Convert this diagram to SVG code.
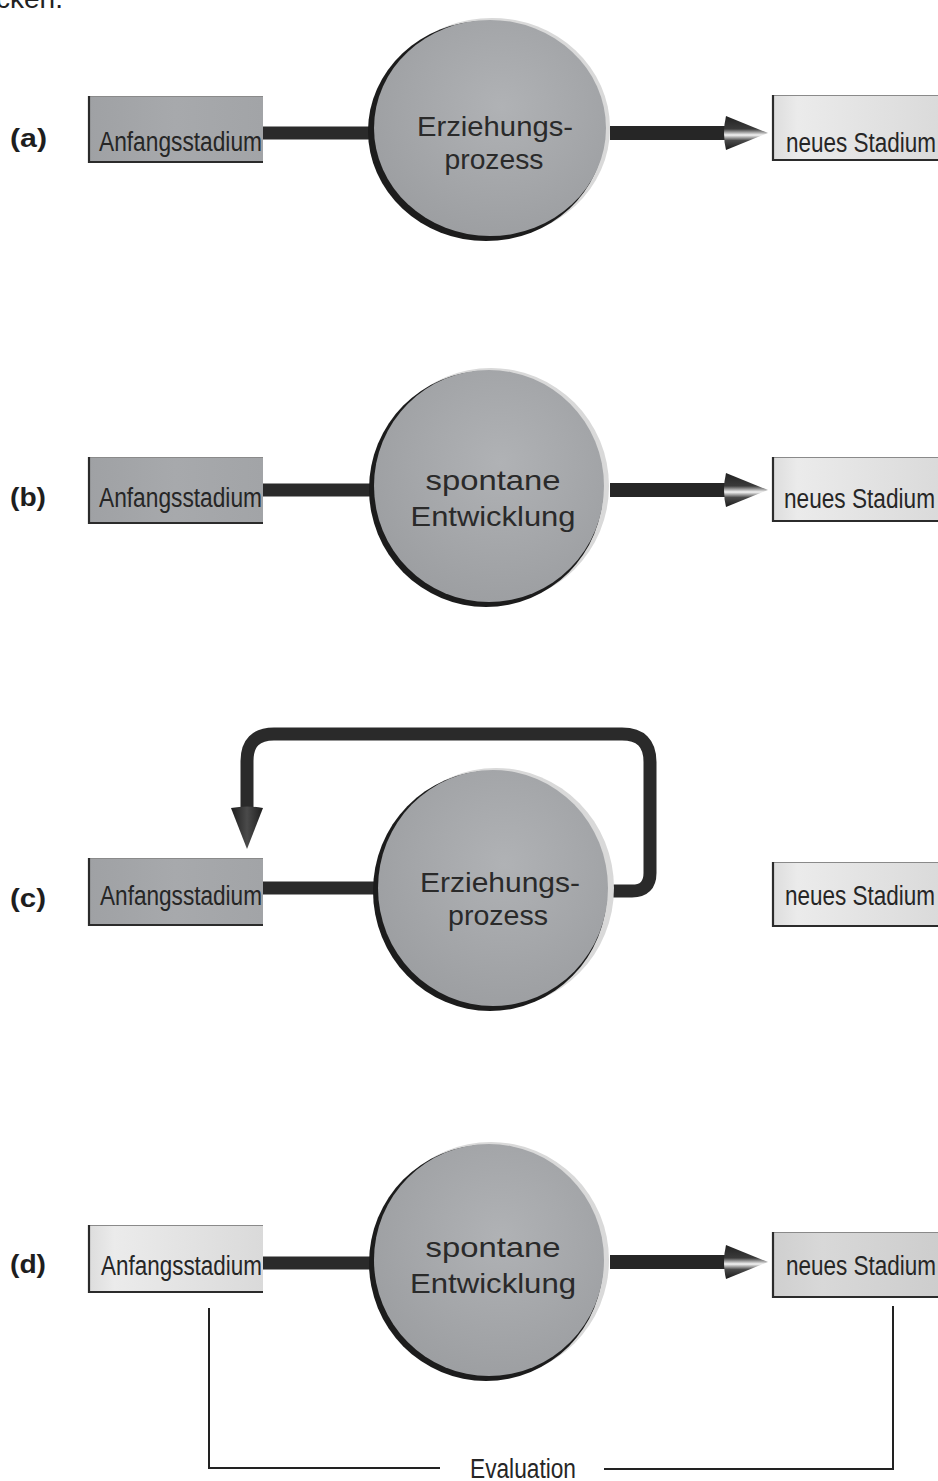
<svg xmlns="http://www.w3.org/2000/svg" width="938" height="1481" viewBox="0 0 938 1481">
  <defs>
    <style>
      .lbl { font-family: "Liberation Sans", Arial, sans-serif; font-weight: bold; font-size: 26px; fill: #1e1e1e; }
      .box-t { font-family: "Liberation Sans Narrow", "Liberation Sans", Arial, sans-serif; font-stretch: condensed; font-size: 27px; fill: #262626; }
      .disc-t { font-family: "Liberation Sans", Arial, sans-serif; font-size: 28px; fill: #2a2a2a; text-anchor: middle; }
      .edge { fill: none; stroke: #2b2b2b; stroke-width: 2.2; }
      .top-edge { fill: none; stroke: #8a8a8a; stroke-width: 1; }
      .bar { fill: none; stroke: #2a2a2a; stroke-width: 13; }
      .shaft { fill: none; stroke: #262626; stroke-width: 14; marker-end: url(#cone); }
      .loop { fill: none; stroke: #2a2a2a; stroke-width: 13; stroke-linejoin: round; marker-end: url(#coneDown); }
      .eval { fill: none; stroke: #222; stroke-width: 2; }
      .halo { fill: #d9d9d9; }
      .rim { fill: #1c1c1c; }
      .disc { fill: url(#discFill); }
    </style>
    <radialGradient id="discFill" cx="0.55" cy="0.4" r="0.7">
      <stop offset="0" stop-color="#b0b2b5"/>
      <stop offset="1" stop-color="#9a9c9f"/>
    </radialGradient>
    <linearGradient id="darkBox" x1="0" y1="0" x2="1" y2="0">
      <stop offset="0" stop-color="#9fa1a4"/>
      <stop offset="0.5" stop-color="#a7a9ac"/>
      <stop offset="1" stop-color="#a2a4a7"/>
    </linearGradient>
    <linearGradient id="lightBox" x1="0" y1="0" x2="1" y2="0">
      <stop offset="0" stop-color="#dcdcdc"/>
      <stop offset="0.15" stop-color="#ebebeb"/>
      <stop offset="1" stop-color="#dadada"/>
    </linearGradient>
    <linearGradient id="midBox" x1="0" y1="0" x2="1" y2="0">
      <stop offset="0" stop-color="#cfcfcf"/>
      <stop offset="0.3" stop-color="#d8d8d8"/>
      <stop offset="1" stop-color="#cdcdcd"/>
    </linearGradient>
    <linearGradient id="coneFill" x1="0" y1="0" x2="0" y2="1">
      <stop offset="0" stop-color="#222"/>
      <stop offset="0.38" stop-color="#3a3a3a"/>
      <stop offset="0.56" stop-color="#f4f4f4"/>
      <stop offset="0.72" stop-color="#4a4a4a"/>
      <stop offset="1" stop-color="#1a1a1a"/>
    </linearGradient>
    <linearGradient id="coneDarkFill" x1="0" y1="0" x2="0" y2="1">
      <stop offset="0" stop-color="#1e1e1e"/>
      <stop offset="0.5" stop-color="#4a4a4a"/>
      <stop offset="1" stop-color="#1e1e1e"/>
    </linearGradient>
    <!-- cone-shaped arrowhead, base sits on the end of the shaft -->
    <marker id="cone" markerUnits="userSpaceOnUse" viewBox="0 0 46 34" markerWidth="46" markerHeight="34" refX="8" refY="17" orient="auto">
      <path d="M4,0 L46,17 L4,34 Q0,17 4,0 Z" fill="url(#coneFill)"/>
    </marker>
    <marker id="coneDown" markerUnits="userSpaceOnUse" viewBox="0 0 44 32" markerWidth="44" markerHeight="32" refX="4" refY="16" orient="auto">
      <path d="M3,0 L44,16 L3,32 Q0,16 3,0 Z" fill="url(#coneDarkFill)"/>
    </marker>
  </defs>

  <!-- clipped remainder of the running text above -->
  <text x="-4" y="8" style="font-family: 'Liberation Sans', Arial, sans-serif; font-size: 28px; fill: #222;">cken.</text>

  <!-- connectors -->
  <g id="connectors">
    <!-- (a) -->
    <path class="bar" d="M263,133 H374"/>
    <path class="shaft" d="M610,133 H730"/>
    <!-- (b) -->
    <path class="bar" d="M263,490 H374"/>
    <path class="shaft" d="M610,490 H730"/>
    <!-- (c) -->
    <path class="bar" d="M263,888 H378"/>
    <path class="loop" d="M612,891 H632 Q650,891 650,873 V762 Q650,734 622,734 H274 Q247,734 247,761 V809"/>
    <!-- (d) -->
    <path class="bar" d="M263,1263 H374"/>
    <path class="shaft" d="M610,1262 H730"/>
    <!-- evaluation bracket -->
    <path class="eval" d="M209,1308 V1468 H440"/>
    <path class="eval" d="M604,1469 H893 V1306"/>
  </g>

  <!-- row labels -->
  <g id="labels">
    <text class="lbl" x="10" y="147" textLength="37" lengthAdjust="spacingAndGlyphs">(a)</text>
    <text class="lbl" x="10" y="506" textLength="36" lengthAdjust="spacingAndGlyphs">(b)</text>
    <text class="lbl" x="10" y="907" textLength="36" lengthAdjust="spacingAndGlyphs">(c)</text>
    <text class="lbl" x="10" y="1273" textLength="36" lengthAdjust="spacingAndGlyphs">(d)</text>
  </g>

  <!-- (a) -->
  <g id="a-start">
    <rect x="88" y="96" width="175" height="67" fill="url(#darkBox)"/>
    <path class="top-edge" d="M88,96.5 H263"/>
    <path class="edge" d="M89,96 V162 H263"/>
    <text class="box-t" x="99" y="151" textLength="163" lengthAdjust="spacingAndGlyphs">Anfangsstadium</text>
  </g>
  <g id="a-process">
    <ellipse class="halo" cx="492" cy="128" rx="118" ry="110"/>
    <ellipse class="rim" cx="486" cy="131" rx="118" ry="110"/>
    <ellipse class="disc" cx="490" cy="128" rx="116" ry="108"/>
    <text class="disc-t" x="495" y="136" textLength="156" lengthAdjust="spacingAndGlyphs">Erziehungs-</text>
    <text class="disc-t" x="494" y="169" textLength="99" lengthAdjust="spacingAndGlyphs">prozess</text>
  </g>
  <g id="a-end">
    <rect x="772" y="95" width="170" height="66" fill="url(#lightBox)"/>
    <path class="top-edge" d="M772,95.5 H940"/>
    <path class="edge" d="M773,95 V160 H940"/>
    <text class="box-t" x="786" y="152" textLength="150" lengthAdjust="spacingAndGlyphs">neues Stadium</text>
  </g>

  <!-- (b) -->
  <g id="b-start">
    <rect x="88" y="457" width="175" height="67" fill="url(#darkBox)"/>
    <path class="top-edge" d="M88,457.5 H263"/>
    <path class="edge" d="M89,457 V523 H263"/>
    <text class="box-t" x="99" y="507" textLength="163" lengthAdjust="spacingAndGlyphs">Anfangsstadium</text>
  </g>
  <g id="b-process">
    <ellipse class="halo" cx="491" cy="486" rx="118" ry="118"/>
    <ellipse class="rim" cx="486" cy="489" rx="117" ry="118"/>
    <ellipse class="disc" cx="489" cy="486" rx="115" ry="116"/>
    <text class="disc-t" x="493" y="490" textLength="135" lengthAdjust="spacingAndGlyphs">spontane</text>
    <text class="disc-t" x="493" y="526" textLength="165" lengthAdjust="spacingAndGlyphs">Entwicklung</text>
  </g>
  <g id="b-end">
    <rect x="772" y="457" width="170" height="65" fill="url(#lightBox)"/>
    <path class="top-edge" d="M772,457.5 H940"/>
    <path class="edge" d="M773,457 V521 H940"/>
    <text class="box-t" x="784" y="508" textLength="151" lengthAdjust="spacingAndGlyphs">neues Stadium</text>
  </g>

  <!-- (c) -->
  <g id="c-start">
    <rect x="88" y="858" width="175" height="68" fill="url(#darkBox)"/>
    <path class="top-edge" d="M88,858.5 H263"/>
    <path class="edge" d="M89,858 V925 H263"/>
    <text class="box-t" x="100" y="905" textLength="162" lengthAdjust="spacingAndGlyphs">Anfangsstadium</text>
  </g>
  <g id="c-process">
    <ellipse class="halo" cx="496" cy="888" rx="118" ry="120"/>
    <ellipse class="rim" cx="490" cy="891" rx="117" ry="120"/>
    <ellipse class="disc" cx="493" cy="888" rx="115" ry="118"/>
    <text class="disc-t" x="500" y="892" textLength="160" lengthAdjust="spacingAndGlyphs">Erziehungs-</text>
    <text class="disc-t" x="498" y="925" textLength="100" lengthAdjust="spacingAndGlyphs">prozess</text>
  </g>
  <g id="c-end">
    <rect x="772" y="862" width="170" height="65" fill="url(#lightBox)"/>
    <path class="top-edge" d="M772,862.5 H940"/>
    <path class="edge" d="M773,862 V926 H940"/>
    <text class="box-t" x="785" y="905" textLength="150" lengthAdjust="spacingAndGlyphs">neues Stadium</text>
  </g>

  <!-- (d) -->
  <g id="d-start">
    <rect x="88" y="1225" width="175" height="68" fill="url(#lightBox)"/>
    <path class="top-edge" d="M88,1225.5 H263"/>
    <path class="edge" d="M89,1225 V1292 H263"/>
    <text class="box-t" x="101" y="1275" textLength="161" lengthAdjust="spacingAndGlyphs">Anfangsstadium</text>
  </g>
  <g id="d-process">
    <ellipse class="halo" cx="491" cy="1260" rx="118" ry="118"/>
    <ellipse class="rim" cx="486" cy="1263" rx="117" ry="118"/>
    <ellipse class="disc" cx="489" cy="1260" rx="115" ry="116"/>
    <text class="disc-t" x="493" y="1257" textLength="135" lengthAdjust="spacingAndGlyphs">spontane</text>
    <text class="disc-t" x="493" y="1293" textLength="166" lengthAdjust="spacingAndGlyphs">Entwicklung</text>
  </g>
  <g id="d-end">
    <rect x="772" y="1232" width="170" height="66" fill="url(#midBox)"/>
    <path class="top-edge" d="M772,1232.5 H940"/>
    <path class="edge" d="M773,1232 V1297 H940"/>
    <text class="box-t" x="786" y="1275" textLength="150" lengthAdjust="spacingAndGlyphs">neues Stadium</text>
  </g>

  <!-- evaluation caption -->
  <g id="d-evaluation">
    <text class="box-t" x="470" y="1478" textLength="106" lengthAdjust="spacingAndGlyphs">Evaluation</text>
  </g>
</svg>
